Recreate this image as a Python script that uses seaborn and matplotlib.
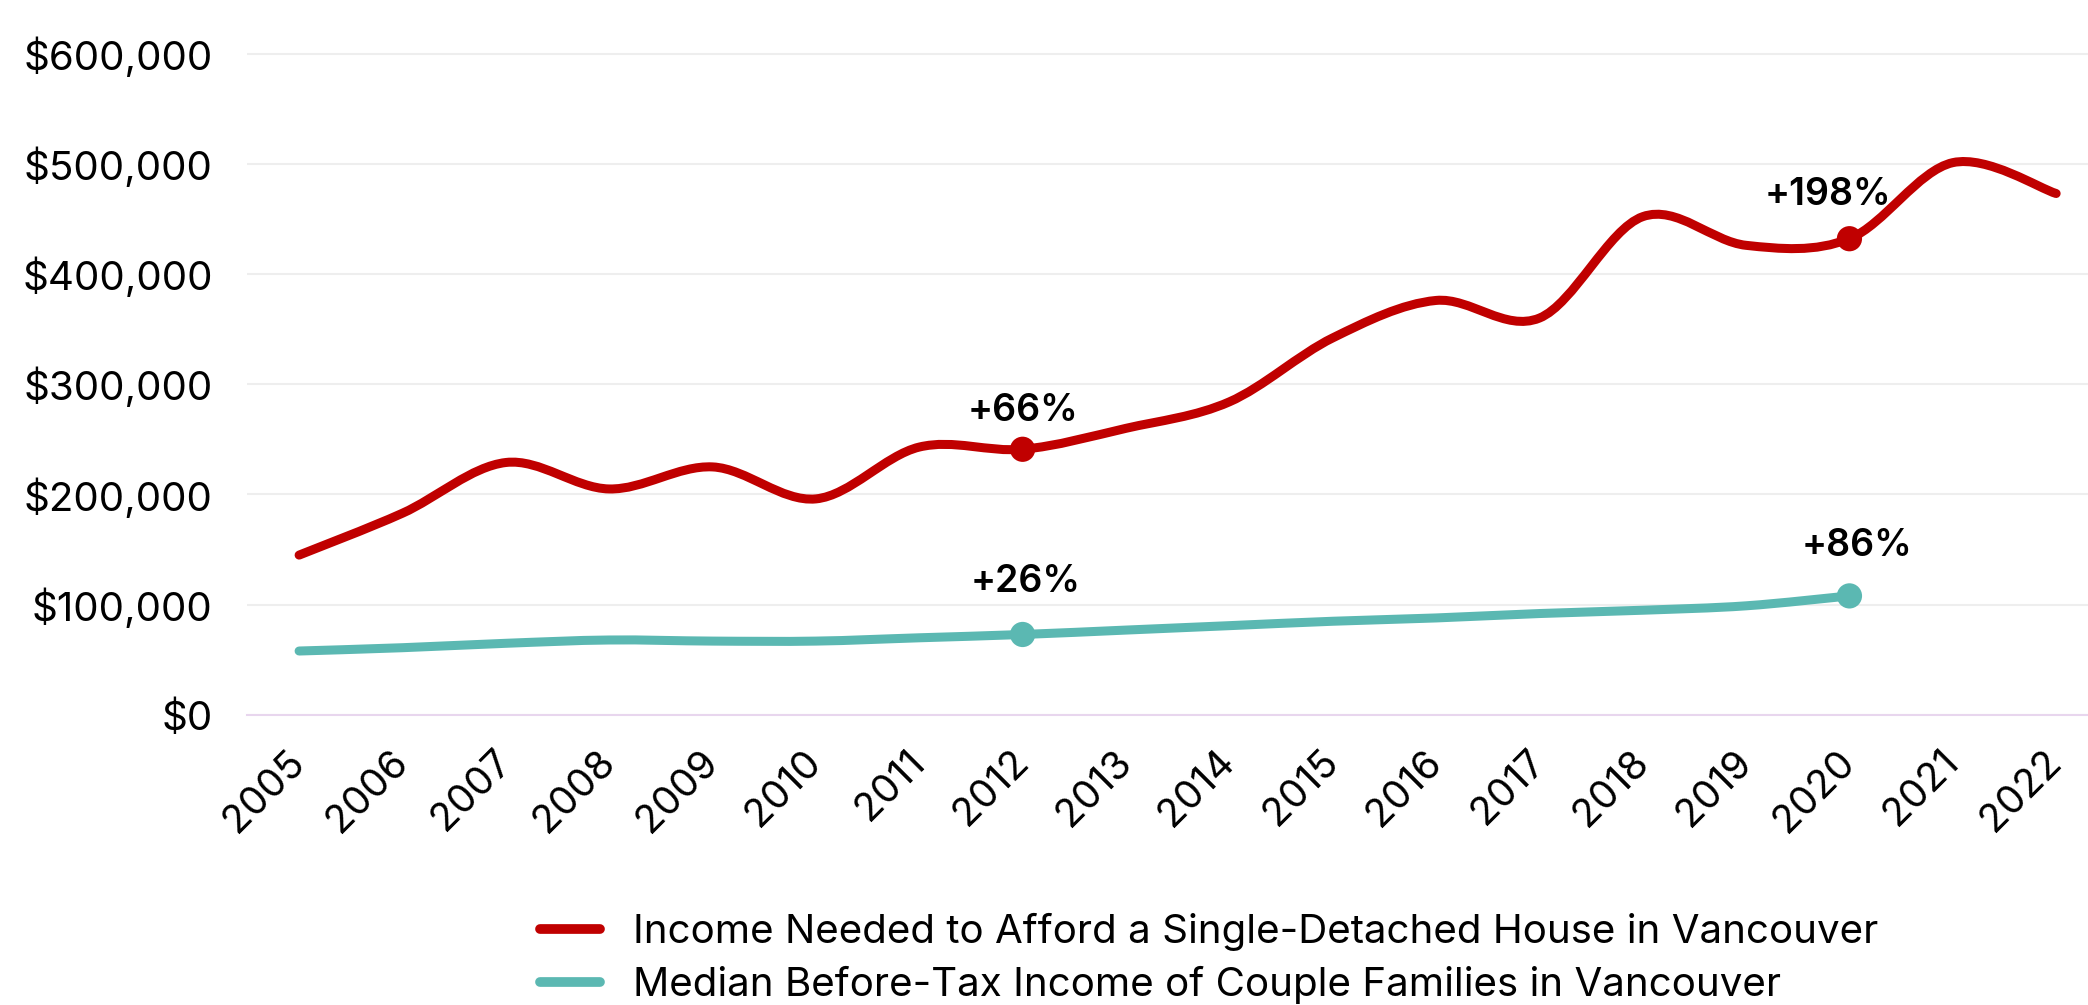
import numpy as np
import seaborn as sns
import matplotlib.pyplot as plt
from matplotlib.path import Path
from matplotlib.patches import PathPatch
from matplotlib.lines import Line2D
from matplotlib.ticker import FuncFormatter

# data
years = list(range(2005, 2023))
needed_income = [145000, 183000, 229000, 205000, 225000, 196000, 243000, 241000, 260000,
                 284000, 342000, 376000, 360000, 452000, 426000, 432000, 501000, 473000]
median_years = list(range(2005, 2021))
median_income = [58000, 61000, 65000, 68000, 67000, 67000, 70000, 73000, 77000,
                 81000, 85000, 88000, 92000, 95000, 99000, 108000]

highlight_years = [2012, 2020]
needed_labels = ['+66%', '+198%']
median_labels = ['+26%', '+86%']

needed_name = 'Income Needed to Afford a Single-Detached House in Vancouver'
median_name = 'Median Before-Tax Income of Couple Families in Vancouver'

RED = '#C00000'
TEAL = '#5BB8B2'

sns.set_theme(style='white')
plt.rcParams['font.family'] = ['Inter', 'DejaVu Sans']
plt.rcParams['text.color'] = 'black'
plt.rcParams['xtick.color'] = 'black'
plt.rcParams['ytick.color'] = 'black'


def smooth_path(x, y):
    # Excel-like smoothed line: cubic bezier segments through each data point
    p = np.column_stack([x, y]).astype(float)
    n = len(p)
    verts = [p[0]]
    codes = [Path.MOVETO]
    for i in range(n - 1):
        prev = p[i - 1] if i > 0 else p[i]
        nxt = p[i + 2] if i + 2 < n else p[i + 1]
        c1 = p[i] + (p[i + 1] - prev) / 6
        c2 = p[i + 1] - (nxt - p[i]) / 6
        verts += [c1, c2, p[i + 1]]
        codes += [Path.CURVE4] * 3
    return Path(verts, codes)


fig = plt.figure(figsize=(20.88, 10.05), dpi=100)
ax = fig.add_axes([0.1185, 0.2886, 0.891, 0.6801])

for xs, ys, col in [(years, needed_income, RED), (median_years, median_income, TEAL)]:
    ax.add_patch(PathPatch(smooth_path(xs, ys), fill=False, edgecolor=col, lw=6.5,
                           capstyle='round', joinstyle='round', zorder=3))

# highlighted points
hl_needed = [needed_income[years.index(y)] for y in highlight_years]
hl_median = [median_income[median_years.index(y)] for y in highlight_years]
sns.scatterplot(x=highlight_years, y=hl_needed, color=RED, s=330, edgecolor='none', zorder=4, ax=ax)
sns.scatterplot(x=highlight_years, y=hl_median, color=TEAL, s=330, edgecolor='none', zorder=4, ax=ax)

offsets_needed = [(0, 28), (-22, 34)]
offsets_median = [(3, 42), (8, 40)]
for yr, val, lab, off in zip(highlight_years, hl_needed, needed_labels, offsets_needed):
    ax.annotate(lab, (yr, val), xytext=off, textcoords='offset pixels', ha='center',
                va='baseline', fontsize=27, fontweight='semibold', color='black')
for yr, val, lab, off in zip(highlight_years, hl_median, median_labels, offsets_median):
    ax.annotate(lab, (yr, val), xytext=off, textcoords='offset pixels', ha='center',
                va='baseline', fontsize=27, fontweight='semibold', color='black')

ax.set_xlim(2004.5, 2022.5)
ax.set_ylim(0, 620000)
ax.set_yticks(range(0, 600001, 100000))
ax.yaxis.set_major_formatter(FuncFormatter(lambda v, p: f'${v:,.0f}'))
ax.set_xticks(years)
ax.set_xticklabels([str(y) for y in years], rotation=45, ha='right', va='center',
                   rotation_mode='anchor')
ax.tick_params(axis='x', length=0, pad=30, labelsize=28.5)
ax.tick_params(axis='y', length=0, pad=25, labelsize=29)
ax.grid(axis='y', color='#EEEEEE', lw=1.5)
ax.grid(axis='x', visible=False)
for s in ['top', 'right', 'left']:
    ax.spines[s].set_visible(False)
ax.spines['bottom'].set_color('#E8D6EE')
ax.spines['bottom'].set_linewidth(1.5)

handles = [Line2D([], [], color=RED, lw=7, solid_capstyle='round'),
           Line2D([], [], color=TEAL, lw=7, solid_capstyle='round')]
fig.legend(handles, [needed_name, median_name], loc='center left',
           bbox_to_anchor=(0.2586, 0.046), frameon=False, fontsize=29,
           handlelength=1.5, handletextpad=0.8, labelspacing=0.37,
           borderpad=0, borderaxespad=0)

fig.savefig('out.png', dpi=100)
